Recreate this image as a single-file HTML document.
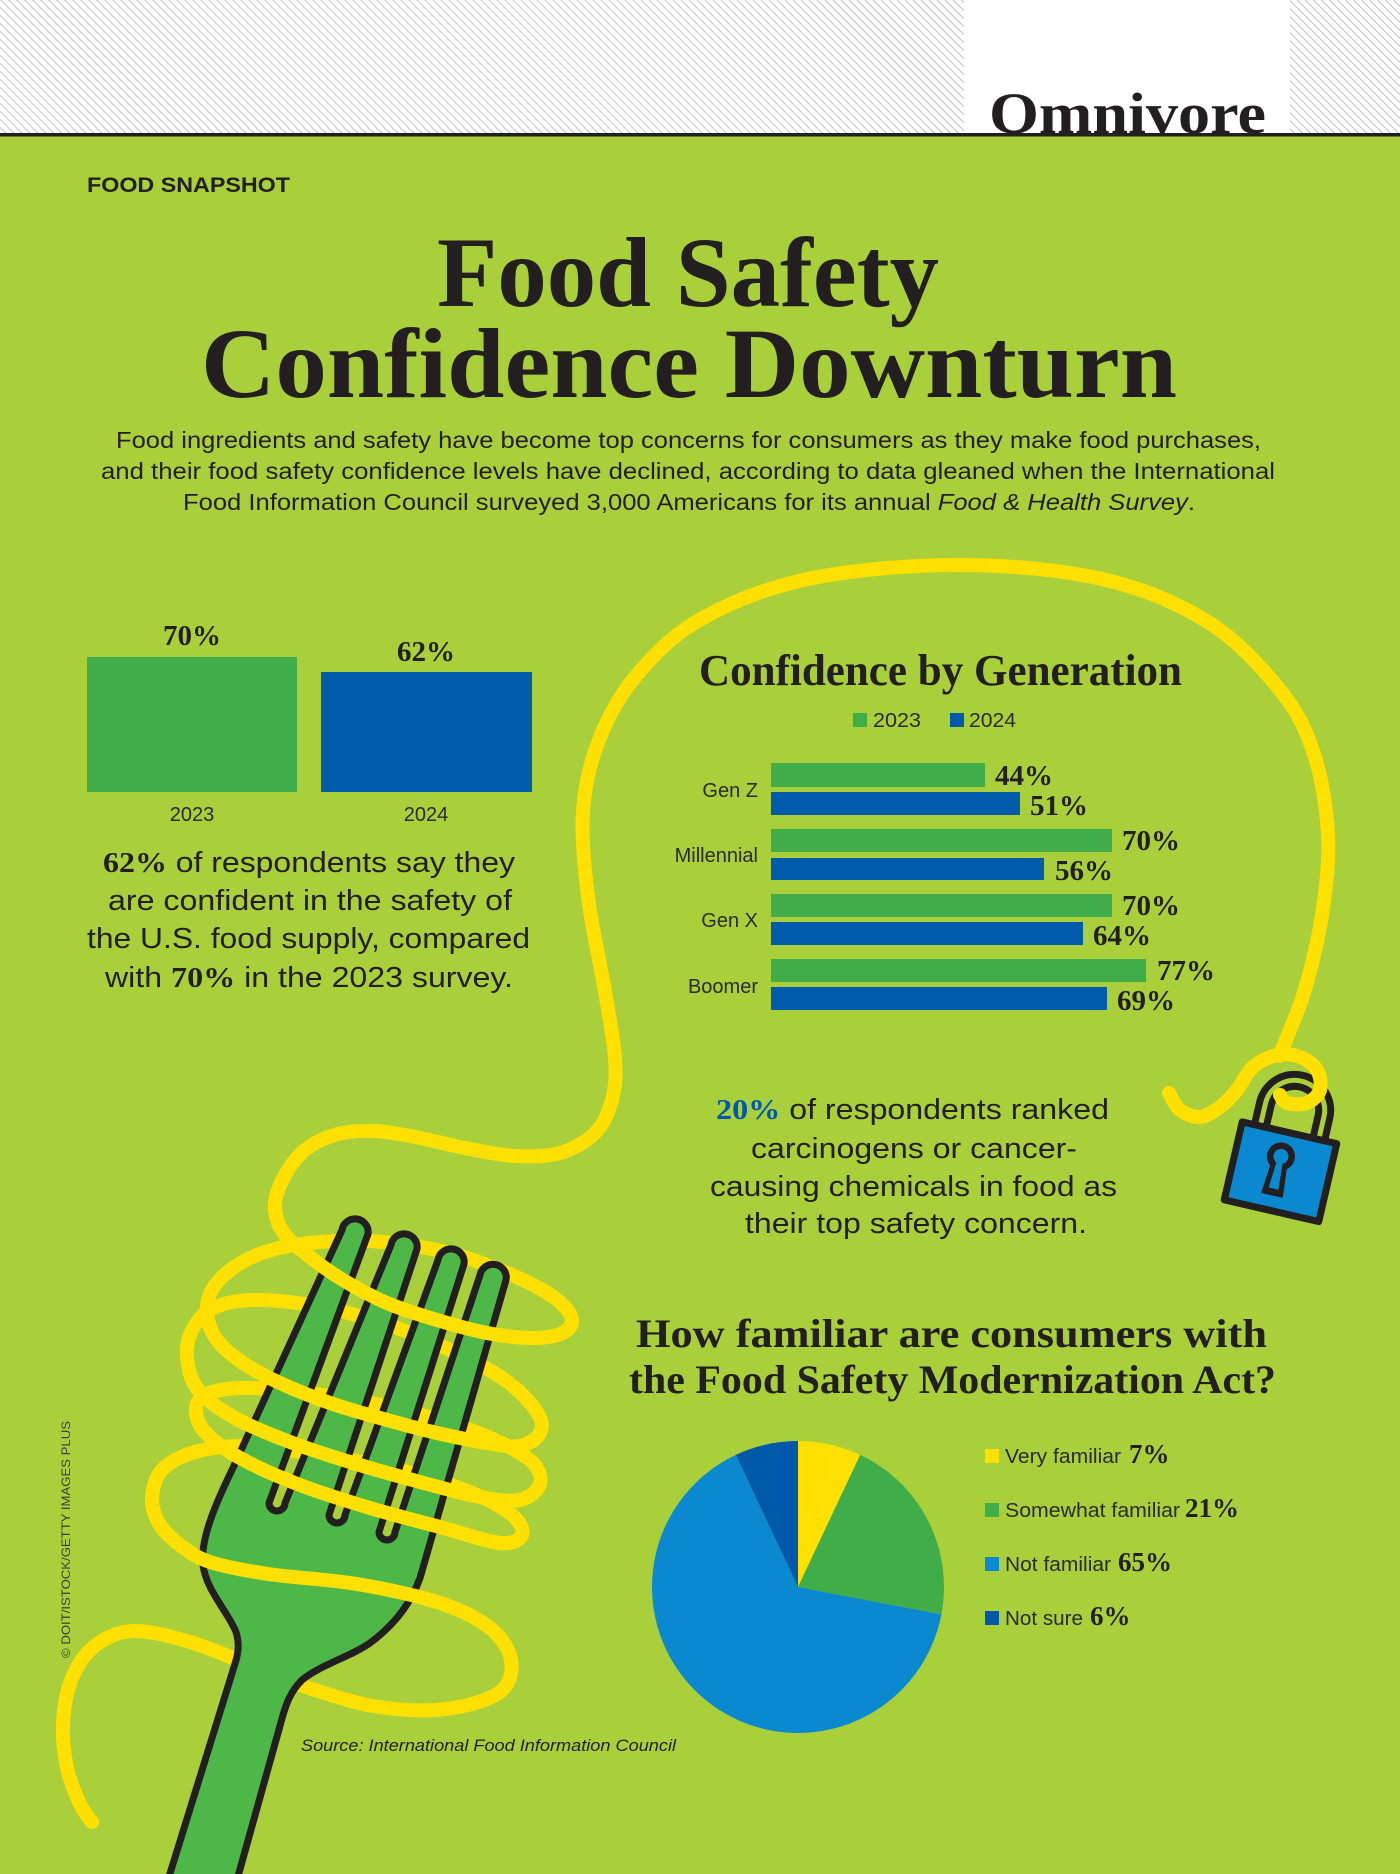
<!DOCTYPE html>
<html><head><meta charset="utf-8"><style>
html,body{margin:0;padding:0;background:#a9cf3a;}
svg{display:block;}
.sans{font-family:"Liberation Sans",Arial,sans-serif;}
.serif{font-family:"Liberation Serif","Times New Roman",serif;font-weight:bold;}
</style></head><body>
<svg width="1400" height="1874" viewBox="0 0 1400 1874" xmlns="http://www.w3.org/2000/svg">
<defs>
<pattern id="hatch" width="5.66" height="5.66" patternUnits="userSpaceOnUse" patternTransform="rotate(-45)">
<line x1="0.5" y1="0" x2="0.5" y2="5.66" stroke="#b4b4b4" stroke-width="0.8"/>
</pattern>
</defs>
<!-- background -->
<rect x="0" y="0" width="1400" height="1874" fill="#a9cf3a"/>
<rect x="0" y="0" width="1400" height="134" fill="#ffffff"/>
<rect x="0" y="0" width="1400" height="134" fill="url(#hatch)"/>
<rect x="964" y="0" width="326" height="134" fill="#ffffff"/>
<rect x="0" y="133" width="1400" height="3.5" fill="#231f20"/>
<text x="989" y="133" class="serif" font-size="58" fill="#231f20" textLength="277" lengthAdjust="spacingAndGlyphs">Omnivore</text>

<text x="87" y="192" class="sans" font-weight="bold" font-size="21" fill="#231f20" textLength="203" lengthAdjust="spacingAndGlyphs">FOOD SNAPSHOT</text>

<text x="437" y="306" class="serif" font-size="100" fill="#231f20" textLength="502" lengthAdjust="spacingAndGlyphs">Food Safety</text>
<text x="201" y="397" class="serif" font-size="100" fill="#231f20" textLength="976" lengthAdjust="spacingAndGlyphs">Confidence Downturn</text>

<g class="sans" font-size="23" fill="#231f20">
<text x="116" y="448" textLength="1145" lengthAdjust="spacingAndGlyphs">Food ingredients and safety have become top concerns for consumers as they make food purchases,</text>
<text x="101" y="479" textLength="1174" lengthAdjust="spacingAndGlyphs">and their food safety confidence levels have declined, according to data gleaned when the International</text>
<text x="183" y="510" textLength="1012" lengthAdjust="spacingAndGlyphs">Food Information Council surveyed 3,000 Americans for its annual <tspan font-style="italic">Food &amp; Health Survey</tspan>.</text>
</g>

<!-- spaghetti main (under fork) -->
<path id="spag" d="M1279 1056 L1290 1030 L1306 986 L1322 915 L1328 836 L1314 754 L1280 690 L1208 622 L1102 579 L958 565 L808 579 L701 619 L636 676 L599 740 L583 811 L588 897 L604 986 L615 1058 L612 1100 L595 1133 L560 1153 L515 1156 L465 1148 L415 1137 L375 1131 L338 1134 L305 1150 L284 1177 L275 1205 L283 1232 L310 1257 L343 1280 L387 1303 L437 1320 L487 1333 L530 1338 L560 1334 L572 1322 L563 1305 L537 1287 L487 1265 L437 1250 L370 1241 L310 1243 L265 1252 L233 1268 L212 1290 L207 1314 L217 1340 L243 1363 L280 1383 L330 1403 L387 1420 L437 1433 L487 1443 L520 1446 L540 1433 L537 1412 L505 1380 L450 1350 L380 1322 L310 1305 L250 1300 L210 1310 L190 1335 L188 1365 L200 1392 L235 1418 L290 1442 L350 1462 L420 1482 L480 1497 L520 1500 L540 1484 L532 1462 L495 1440 L440 1420 L370 1403 L300 1392 L240 1388 L205 1395 L196 1410 L205 1432 L240 1458 L300 1485 L370 1508 L440 1527 L500 1543 L522 1535 L512 1515 L470 1492 L400 1470 L320 1455 L246 1446 L195 1452 L162 1470 L152 1499 L160 1525 L180 1545 L210 1562 L268 1574 L357 1584 L440 1603 L490 1628 L511 1660 L500 1692 L446 1709 L379 1707 L312 1689 L250 1665 L190 1642 L134 1631 L96 1645 L72 1678 L63 1724 L67 1768 L80 1804 L92 1822" fill="none" stroke="#ffe000" stroke-width="14" stroke-linecap="round" stroke-linejoin="round"/>

<!-- fork -->
<path d="M168 1880 L234 1667 C238 1655 240 1645 236 1632 C228 1612 206 1590 203 1565 C200 1540 215 1505 232 1470 L342 1230 A13 13 0 0 1 368 1234 L269 1503 A8 8 0 0 0 285 1503 L391 1245 A13 13 0 0 1 417 1249 L329 1515 A8 8 0 0 0 345 1515 L438 1260 A13 13 0 0 1 464 1264 L379 1532 A8 8 0 0 0 395 1532 L480 1275 A13 13 0 0 1 506 1280 L420 1578 C412 1600 398 1622 370 1643 C350 1657 320 1665 302 1680 C290 1692 286 1705 283 1715 L237 1880 Z" fill="#4db848" stroke="#231f20" stroke-width="7" stroke-linejoin="round"/>

<g id="fronts" fill="none" stroke="#ffe000" stroke-width="14" stroke-linecap="round" stroke-linejoin="round"></g>

<!-- copyright -->
<text transform="translate(70,1658) rotate(-90)" x="0" y="0" class="sans" font-size="12" fill="#3a3a3a" textLength="237" lengthAdjust="spacingAndGlyphs">© DOIT/ISTOCK/GETTY IMAGES PLUS</text>

<!-- left bar chart -->
<rect x="87" y="657" width="210" height="135" fill="#40ad4a"/>
<rect x="321" y="672" width="211" height="120" fill="#005baa"/>
<text x="192" y="645" class="serif" font-size="29" fill="#231f20" text-anchor="middle">70%</text>
<text x="426" y="661" class="serif" font-size="29" fill="#231f20" text-anchor="middle">62%</text>
<text x="192" y="821" class="sans" font-size="20" fill="#2b2b2b" text-anchor="middle">2023</text>
<text x="426" y="821" class="sans" font-size="20" fill="#2b2b2b" text-anchor="middle">2024</text>

<g class="sans" font-size="29" fill="#231f20">
<text x="103" y="872" textLength="412" lengthAdjust="spacingAndGlyphs"><tspan class="serif">62%</tspan> of respondents say they</text>
<text x="108" y="910" textLength="404" lengthAdjust="spacingAndGlyphs">are confident in the safety of</text>
<text x="87" y="948" textLength="443" lengthAdjust="spacingAndGlyphs">the U.S. food supply, compared</text>
<text x="105" y="987" textLength="408" lengthAdjust="spacingAndGlyphs">with <tspan class="serif">70%</tspan> in the 2023 survey.</text>
</g>

<!-- generation chart -->
<text x="699" y="685" class="serif" font-size="44" fill="#231f20" textLength="483" lengthAdjust="spacingAndGlyphs">Confidence by Generation</text>
<rect x="853" y="713" width="14" height="14" fill="#40ad4a"/>
<text x="873" y="727" class="sans" font-size="20" fill="#2b2b2b" textLength="48" lengthAdjust="spacingAndGlyphs">2023</text>
<rect x="950" y="713" width="14" height="14" fill="#005baa"/>
<text x="969" y="727" class="sans" font-size="20" fill="#2b2b2b" textLength="47" lengthAdjust="spacingAndGlyphs">2024</text>

<g>
<rect x="771" y="763" width="214" height="24" fill="#40ad4a"/>
<rect x="771" y="792" width="249" height="23" fill="#005baa"/>
<rect x="771" y="829" width="341" height="23" fill="#40ad4a"/>
<rect x="771" y="858" width="273" height="22" fill="#005baa"/>
<rect x="771" y="894" width="341" height="23" fill="#40ad4a"/>
<rect x="771" y="922" width="312" height="23" fill="#005baa"/>
<rect x="771" y="959" width="375" height="23" fill="#40ad4a"/>
<rect x="771" y="987" width="336" height="23" fill="#005baa"/>
</g>
<g class="serif" font-size="29" fill="#231f20">
<text x="995" y="785">44%</text>
<text x="1030" y="815">51%</text>
<text x="1122" y="850">70%</text>
<text x="1055" y="880">56%</text>
<text x="1122" y="915">70%</text>
<text x="1093" y="945">64%</text>
<text x="1157" y="980">77%</text>
<text x="1117" y="1010">69%</text>
</g>
<g class="sans" font-size="20" fill="#2b2b2b" text-anchor="end">
<text x="758" y="797">Gen Z</text>
<text x="758" y="862">Millennial</text>
<text x="758" y="927">Gen X</text>
<text x="758" y="993">Boomer</text>
</g>

<!-- middle text -->
<g class="sans" font-size="29" fill="#231f20">
<text x="716" y="1119" textLength="393" lengthAdjust="spacingAndGlyphs"><tspan class="serif" fill="#0058a9">20%</tspan> of respondents ranked</text>
<text x="751" y="1158" textLength="326" lengthAdjust="spacingAndGlyphs">carcinogens or cancer-</text>
<text x="710" y="1196" textLength="407" lengthAdjust="spacingAndGlyphs">causing chemicals in food as</text>
<text x="745" y="1233" textLength="342" lengthAdjust="spacingAndGlyphs">their top safety concern.</text>
</g>

<!-- lock -->
<g transform="translate(1280.5,1171.75) rotate(13)">
<path d="M-30 -42 V-63 A30 30 0 0 1 30 -63 V-42" fill="none" stroke="#231f20" stroke-width="19"/>
<path d="M-30 -42 V-63 A30 30 0 0 1 30 -63 V-42" fill="none" stroke="#a9cf3a" stroke-width="5"/>
</g>
<path id="hook" d="M1169 1093 L1180 1110 L1200 1117 L1220 1107 L1237 1090 L1253 1067 L1277 1055 L1300 1057 L1317 1070 L1320 1090 L1307 1103 L1287 1103 L1280 1095" fill="none" stroke="#ffe000" stroke-width="14" stroke-linecap="round" stroke-linejoin="round"/>
<g transform="translate(1280.5,1171.75) rotate(13)">
<rect x="-48.5" y="-40" width="97" height="80" fill="#0a89d1" stroke="#231f20" stroke-width="7" stroke-linejoin="round"/>
<circle cx="-3" cy="-15" r="14" fill="#231f20"/>
<polygon points="-10,-10 4,-10 7,24 -13,24" fill="#231f20" stroke="#231f20" stroke-width="2" stroke-linejoin="round"/>
<circle cx="-3" cy="-15" r="7.5" fill="#0a89d1"/>
<polygon points="-6,-10 0,-10 2,18 -8,18" fill="#0a89d1"/>
</g>

<!-- pie section -->
<text x="636" y="1347" class="serif" font-size="40" fill="#231f20" textLength="631" lengthAdjust="spacingAndGlyphs">How familiar are consumers with</text>
<text x="629" y="1393" class="serif" font-size="40" fill="#231f20" textLength="647" lengthAdjust="spacingAndGlyphs">the Food Safety Modernization Act?</text>

<path d="M798 1587 L798 1441 A146 146 0 0 1 860.2 1454.9 Z" fill="#ffe000"/>
<path d="M798 1587 L860.2 1454.9 A146 146 0 0 1 941.4 1614.4 Z" fill="#41ad49"/>
<path d="M798 1587 L941.4 1614.4 A146 146 0 1 1 735.8 1454.9 Z" fill="#0a89d1"/>
<path d="M798 1587 L735.8 1454.9 A146 146 0 0 1 798 1441 Z" fill="#0058a9"/>

<rect x="985" y="1449" width="14" height="14" fill="#ffe000"/>
<rect x="985" y="1503" width="14" height="14" fill="#41ad49"/>
<rect x="985" y="1557" width="14" height="14" fill="#0a89d1"/>
<rect x="985" y="1611" width="14" height="14" fill="#0058a9"/>
<g class="sans" font-size="20" fill="#2b2b2b">
<text x="1005" y="1463" textLength="116" lengthAdjust="spacingAndGlyphs">Very familiar</text>
<text x="1005" y="1517" textLength="175" lengthAdjust="spacingAndGlyphs">Somewhat familiar</text>
<text x="1005" y="1571" textLength="106" lengthAdjust="spacingAndGlyphs">Not familiar</text>
<text x="1005" y="1625" textLength="78" lengthAdjust="spacingAndGlyphs">Not sure</text>
</g>
<g class="serif" font-size="27" fill="#231f20">
<text x="1129" y="1463">7%</text>
<text x="1185" y="1517">21%</text>
<text x="1118" y="1571">65%</text>
<text x="1090" y="1625">6%</text>
</g>

<text x="301" y="1751" class="sans" font-style="italic" font-size="17" fill="#231f20" textLength="375" lengthAdjust="spacingAndGlyphs">Source: International Food Information Council</text>
</svg>
<script>
(function(){
function parse(d){var n=d.match(/-?\d+(\.\d+)?/g).map(Number);var p=[];for(var i=0;i+1<n.length;i+=2)p.push([n[i],n[i+1]]);return p;}
function seg(p,i0,i1){var s='M'+p[i0][0]+' '+p[i0][1];for(var i=i0;i<i1;i++){var a=p[Math.max(i-1,0)],b=p[i],c=p[i+1],e=p[Math.min(i+2,p.length-1)];
s+=' C'+(b[0]+(c[0]-a[0])/6).toFixed(1)+' '+(b[1]+(c[1]-a[1])/6).toFixed(1)+' '+(c[0]-(e[0]-b[0])/6).toFixed(1)+' '+(c[1]-(e[1]-b[1])/6).toFixed(1)+' '+c[0]+' '+c[1];}return s;}
var sp=document.getElementById('spag');var pts=parse(sp.getAttribute('d'));
sp.setAttribute('d',seg(pts,0,pts.length-1));
var g=document.getElementById('fronts');var ranges=[[27,37],[47,56],[65,73],[81,88],[96,104]];
ranges.forEach(function(r){var el=document.createElementNS('http://www.w3.org/2000/svg','path');el.setAttribute('d',seg(pts,r[0],r[1]));g.appendChild(el);});
var hk=document.getElementById('hook');var hp=parse(hk.getAttribute('d'));hk.setAttribute('d',seg(hp,0,hp.length-1));
})();
</script>
</body></html>
